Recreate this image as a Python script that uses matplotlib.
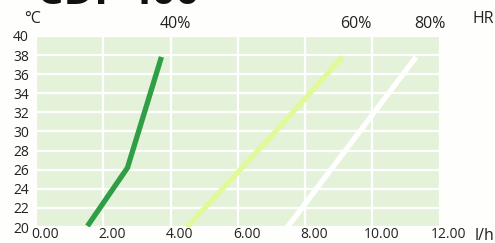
import numpy as np
import matplotlib
matplotlib.use("Agg")
from matplotlib import pyplot as plt
from matplotlib.transforms import ScaledTranslation

# humidity curves: water removed (l/h) vs temperature (°C)
hr40_x = [1.53, 2.72, 3.73]
hr40_y = [20.1, 26.2, 37.8]
hr60_x = [4.49, 7.02, 9.11]
hr60_y = [20.0, 29.6, 37.8]
hr80_x = [7.48, 11.30]
hr80_y = [20.0, 37.8]

hr_labels = ['40%', '60%', '80%']
x_ticks = [0, 2, 4, 6, 8, 10, 12]
x_ticklabels = ['0.00', '2.00', '4.00', '6.00', '8.00', '10.00', '12.00']
y_ticks = list(range(20, 41, 2))

plt.rcParams['font.family'] = ['Open Sans', 'DejaVu Sans']
txt_col = '#222222'

fig = plt.figure(figsize=(4.95, 2.43), dpi=100)
fig.patch.set_facecolor('#fefefc')
ax = fig.add_axes([0.0727, 0.0658, 0.8153, 0.7862])
ax.set_facecolor('#e4f2da')

ax.plot(hr40_x, hr40_y, color='#2f9e44', lw=3.8, solid_capstyle='butt', solid_joinstyle='miter')
ax.plot(hr60_x, hr60_y, color='#e2f99a', lw=3.8, solid_capstyle='butt', solid_joinstyle='miter')
ax.plot(hr80_x, hr80_y, color='#ffffff', lw=3.8, solid_capstyle='butt', solid_joinstyle='miter')

ax.set_xlim(0, 12)
ax.set_ylim(20, 40)
ax.set_xticks(x_ticks)
ax.set_xticklabels(x_ticklabels)
ax.set_yticks(y_ticks)
ax.grid(True, color='white', lw=1.6)
ax.set_axisbelow(True)
for s in ax.spines.values():
    s.set_visible(False)
ax.tick_params(axis='both', length=0, labelsize=10, colors=txt_col)
ax.tick_params(axis='y', pad=5)
ax.tick_params(axis='x', pad=0)

# x labels sit a bit to the right of their gridline
off = ScaledTranslation(9 / 100, 0, fig.dpi_scale_trans)
for lab in ax.get_xticklabels():
    lab.set_transform(lab.get_transform() + off)

# curve labels above the plot, starting at the top of each curve
lab_off = ScaledTranslation(-2 / 100, 0, fig.dpi_scale_trans)
for lab, xx in zip(hr_labels, [hr40_x[-1], hr60_x[-1], hr80_x[-1]]):
    ax.text(xx, 41.3, lab, ha='left', va='center', fontsize=11.5, color=txt_col,
            transform=ax.transData + lab_off)

fig.text(33 / 495, 1 - 19 / 243, '°C', ha='center', va='center', fontsize=11.5, color=txt_col)
fig.text(483 / 495, 1 - 19 / 243, 'HR', ha='center', va='center', fontsize=11.5, color=txt_col)
fig.text(484 / 495, 1 - 236 / 243, 'l/h', ha='center', va='center', fontsize=11.5, color=txt_col)

# title mostly cut off at the top edge
fig.text(37 / 495, 1 - 4 / 243, 'CDF 400', ha='left', va='baseline', fontsize=30,
         fontweight='bold', color='#111111')

fig.savefig('out.png', dpi=100, facecolor=fig.get_facecolor())
